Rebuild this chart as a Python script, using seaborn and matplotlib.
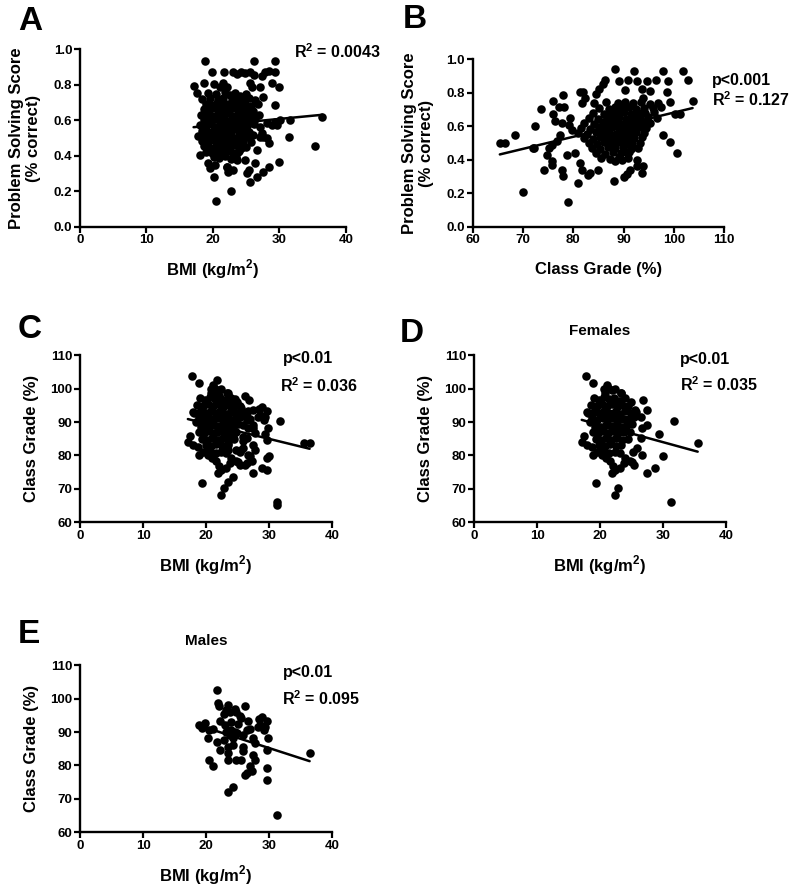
import matplotlib
matplotlib.use("Agg")
import matplotlib.pyplot as plt
import seaborn as sns
import numpy as np

# ---- Panel A: BMI vs problem solving score ----
bmi_a = [
    18.8, 26.2, 29.3,
    19.9, 21.7, 23.1, 23.6, 24.2, 24.9, 25.6, 26.2, 27.9, 28.4, 29.3, 27.4,
    17.1, 17.6, 18.6, 20.1, 21.6, 22.1, 25.6, 27.1, 28.9, 30.0, 25.9, 21.1,
    27.6, 29.4, 30.1, 29.6, 29.4, 31.6, 31.4, 28.1, 27.6, 36.5, 35.4,
    29.9, 28.4, 27.5, 26.6, 25.6, 26.4, 25.4, 24.8, 25.1, 22.8, 20.4,
    20.1, 19.6, 20.3, 22.1, 22.3, 23.0, 18.1, 26.6, 23.8, 24.3,
    28.1, 28.9, 27.1, 27.4, 18.3, 19.3, 22.2, 23.7, 28.4, 27.1,
    19.2, 20.5, 21.8, 22.6, 23.4, 24.1, 25.0,
    18.4, 19.6, 20.8, 21.5, 22.9, 23.7, 24.6, 25.4, 26.3,
    19.0, 19.9, 20.6, 21.2, 22.0, 22.7, 23.3, 24.0, 24.8, 25.7, 26.8,
    18.6, 19.4, 20.2, 21.0, 21.7, 22.4, 23.1, 23.9, 24.5, 25.2, 26.0,
    18.2, 19.1, 19.8, 20.7, 21.4, 22.2, 22.9, 23.6, 24.3, 25.0, 25.9, 26.9,
    18.7, 19.5, 20.3, 21.1, 21.9, 22.6, 23.4, 24.1, 24.9, 25.6, 26.4,
    18.0, 18.9, 19.7, 20.5, 21.3, 22.0, 22.8, 23.5, 24.2, 25.1, 26.2,
    18.4, 19.3, 20.1, 20.9, 21.6, 22.4, 23.2, 24.0, 24.7, 25.5,
    17.8, 18.8, 19.6, 20.4, 21.2, 21.9, 22.7, 23.5, 24.4, 25.3, 26.1,
    18.3, 19.2, 20.0, 20.8, 21.5, 22.3, 23.0, 23.8, 24.6, 25.8,
    18.6, 19.5, 20.4, 21.1, 21.9, 22.6, 23.4, 24.2, 25.0,
    19.0, 19.9, 20.7, 21.6, 22.3, 23.1, 24.0,
    20.2, 21.0, 21.8, 22.7, 23.5,
]
score_a = [
    0.931, 0.936, 0.931,
    0.869, 0.874, 0.869, 0.861, 0.869, 0.865, 0.874, 0.856, 0.869, 0.880, 0.874, 0.850,
    0.794, 0.752, 0.809, 0.803, 0.809, 0.790, 0.809, 0.790, 0.812, 0.790, 0.786, 0.790,
    0.733, 0.686, 0.602, 0.574, 0.592, 0.602, 0.504, 0.498, 0.504, 0.621, 0.457,
    0.367, 0.339, 0.310, 0.282, 0.254, 0.357, 0.320, 0.376, 0.301, 0.203, 0.147,
    0.282, 0.329, 0.348, 0.339, 0.310, 0.320, 0.404, 0.433, 0.423, 0.442,
    0.583, 0.574, 0.564, 0.530, 0.510, 0.360, 0.338, 0.376, 0.470, 0.507,
    0.752, 0.745, 0.758, 0.741, 0.755, 0.738, 0.748,
    0.718, 0.725, 0.712, 0.728, 0.716, 0.722, 0.709, 0.724, 0.714,
    0.692, 0.684, 0.697, 0.686, 0.694, 0.681, 0.699, 0.688, 0.693, 0.683, 0.690,
    0.662, 0.655, 0.667, 0.652, 0.664, 0.658, 0.669, 0.654, 0.661, 0.666, 0.651,
    0.628, 0.636, 0.624, 0.633, 0.627, 0.638, 0.622, 0.631, 0.626, 0.635, 0.621, 0.629,
    0.602, 0.596, 0.607, 0.593, 0.604, 0.598, 0.609, 0.591, 0.601, 0.594, 0.606,
    0.572, 0.566, 0.578, 0.563, 0.574, 0.568, 0.579, 0.561, 0.571, 0.565, 0.576,
    0.542, 0.536, 0.547, 0.533, 0.544, 0.538, 0.549, 0.531, 0.541, 0.535,
    0.512, 0.506, 0.517, 0.503, 0.514, 0.508, 0.519, 0.501, 0.511, 0.505, 0.516,
    0.482, 0.476, 0.487, 0.473, 0.484, 0.478, 0.489, 0.471, 0.481, 0.475,
    0.452, 0.446, 0.457, 0.443, 0.454, 0.448, 0.459, 0.441, 0.451,
    0.422, 0.416, 0.427, 0.413, 0.424, 0.418, 0.429,
    0.392, 0.386, 0.397, 0.383, 0.394,
]

# ---- Panel B: class grade vs problem solving score ----
grade_b = [
    88.2, 92.1, 97.9, 101.7, 102.8, 103.7,
    86.2, 85.8, 85.1, 84.5, 89.0, 90.8, 90.3, 92.6, 94.6, 96.4, 98.9, 93.6, 95.3, 98.6, 93.9, 99.2,
    82.0, 81.3, 82.3, 81.7, 84.2, 77.9, 75.9, 77.2, 78.2, 73.6, 76.0, 76.4, 77.7, 79.4, 79.2, 79.7, 72.4, 68.4,
    65.4, 66.4, 72.1,
    77.4, 76.7, 75.7, 75.2, 74.7, 75.7, 75.8, 74.1, 71.9, 78.7, 77.7, 78.0, 80.3, 81.3, 81.7, 83.0, 81.0, 70.1, 78.9,
    83.3, 85.0, 88.0, 90.0, 90.6, 91.3, 92.6, 93.9, 92.6, 93.6, 89.6, 88.3, 90.6, 99.2, 100.6, 97.9, 100.2, 101.2,
    86.5, 88.8, 90.2, 91.9, 93.5, 95.2, 96.9,
    85.2, 87.0, 88.3, 89.6, 91.0, 92.4, 94.0, 95.8, 97.5,
    84.0, 86.0, 87.4, 88.7, 90.0, 91.4, 92.8, 94.3, 96.0,
    83.1, 85.0, 86.6, 87.9, 89.1, 90.5, 91.8, 93.2, 94.8, 96.6,
    82.2, 84.2, 85.8, 87.1, 88.4, 89.7, 91.0, 92.4, 93.8, 95.3,
    81.5, 83.4, 85.1, 86.4, 87.7, 89.0, 90.3, 91.6, 93.0, 94.5,
    80.9, 82.8, 84.5, 85.8, 87.1, 88.4, 89.7, 91.0, 92.4, 94.0,
    82.1, 83.9, 85.3, 86.6, 87.9, 89.2, 90.6, 92.0, 93.6,
    83.2, 84.8, 86.1, 87.5, 88.8, 90.2, 91.7, 93.2,
    83.8, 85.4, 86.9, 88.3, 89.8, 91.4, 92.9,
    84.5, 86.2, 87.8, 89.4, 91.1,
    85.6, 87.3, 89.0, 90.8,
]
score_b = [
    0.940, 0.930, 0.930, 0.930, 0.877, 0.753,
    0.877, 0.851, 0.821, 0.790, 0.871, 0.877, 0.817, 0.871, 0.871, 0.877, 0.871, 0.821, 0.811, 0.803, 0.767, 0.747,
    0.803, 0.803, 0.767, 0.737, 0.741, 0.787, 0.751, 0.717, 0.717, 0.704, 0.672, 0.632, 0.618, 0.648, 0.608, 0.578, 0.604, 0.548,
    0.502, 0.502, 0.472,
    0.548, 0.509, 0.489, 0.469, 0.429, 0.393, 0.369, 0.339, 0.473, 0.429, 0.339, 0.300, 0.439, 0.379, 0.339, 0.310, 0.260, 0.210, 0.150,
    0.320, 0.340, 0.274, 0.294, 0.314, 0.339, 0.360, 0.360, 0.400, 0.320, 0.400, 0.390, 0.449, 0.505, 0.443, 0.548, 0.672, 0.672,
    0.742, 0.736, 0.745, 0.738, 0.744, 0.735, 0.741,
    0.712, 0.706, 0.715, 0.708, 0.714, 0.705, 0.711, 0.709, 0.713,
    0.682, 0.676, 0.685, 0.678, 0.684, 0.675, 0.681, 0.679, 0.683,
    0.652, 0.646, 0.655, 0.648, 0.654, 0.645, 0.651, 0.649, 0.653, 0.647,
    0.622, 0.616, 0.625, 0.618, 0.624, 0.615, 0.621, 0.619, 0.623, 0.617,
    0.592, 0.586, 0.595, 0.588, 0.594, 0.585, 0.591, 0.589, 0.593, 0.587,
    0.562, 0.556, 0.565, 0.558, 0.564, 0.555, 0.561, 0.559, 0.563, 0.557,
    0.532, 0.526, 0.535, 0.528, 0.534, 0.525, 0.531, 0.529, 0.533,
    0.502, 0.496, 0.505, 0.498, 0.504, 0.495, 0.501, 0.499,
    0.472, 0.466, 0.475, 0.468, 0.474, 0.465, 0.471,
    0.442, 0.436, 0.445, 0.438, 0.444,
    0.412, 0.406, 0.415, 0.408,
]

# ---- Panel D: females, BMI vs class grade ----
bmi_f = [
    17.8, 18.9, 21.1, 21.3, 21.9, 20.7, 22.3, 23.4, 24.9, 26.8,
    27.4, 26.5, 26.6, 31.7, 29.3, 35.5, 26.5, 25.8, 30.0, 26.7,
    28.8, 27.4, 25.0, 25.4, 23.8, 23.2, 22.4, 21.9, 22.0, 19.4,
    22.9, 22.3, 31.3, 17.4, 17.1, 17.9, 17.9, 18.1, 18.4, 19.2,
    18.7, 19.5, 18.9, 20.3, 21.0, 21.6, 20.5, 24.8, 24.0, 25.3,
    27.4, 25.6, 24.0, 23.3, 20.8,
    19.0, 19.8, 20.6, 21.4, 22.2, 23.0,
    18.6, 19.5, 20.3, 21.1, 21.9, 22.7, 23.5, 24.4,
    19.1, 19.9, 20.7, 21.5, 22.3, 23.1, 24.0, 24.9, 25.7,
    18.8, 19.6, 20.4, 21.2, 22.0, 22.8, 23.6, 24.5, 25.4,
    19.3, 20.1, 20.9, 21.7, 22.5, 23.3, 24.2, 25.1,
    18.9, 19.7, 20.5, 21.3, 22.1, 22.9, 23.8, 24.7,
    19.4, 20.2, 21.0, 21.8, 22.6, 23.5, 24.4,
    19.9, 20.8, 21.6, 22.5, 23.4,
    20.6, 21.5, 22.4, 23.2,
]
grade_f = [
    103.7, 101.6, 101.1, 100.1, 99.6, 99.8, 99.8, 98.6, 96.1, 96.6,
    93.6, 91.4, 88.1, 90.3, 86.3, 83.6, 85.1, 82.1, 79.8, 80.1,
    76.1, 74.7, 78.1, 77.2, 77.7, 76.2, 75.8, 74.7, 76.7, 71.8,
    70.2, 68.2, 66.0, 85.7, 84.1, 83.2, 93.1, 92.8, 90.1, 88.6,
    82.6, 81.1, 80.2, 80.2, 79.2, 78.2, 82.6, 78.2, 79.2, 80.9,
    89.1, 93.6, 97.1, 98.6, 98.6,
    97.2, 96.6, 97.5, 96.9, 97.3, 96.4,
    95.1, 94.7, 95.4, 94.9, 95.3, 94.6, 95.2, 94.8,
    93.0, 92.6, 93.3, 92.8, 93.1, 92.5, 93.2, 92.7, 92.9,
    91.1, 90.7, 91.3, 90.8, 91.2, 90.6, 91.0, 90.9, 91.4,
    89.0, 88.6, 89.2, 88.7, 89.1, 88.5, 88.9, 89.3,
    87.1, 86.7, 87.3, 86.8, 87.2, 86.6, 87.0, 86.9,
    85.0, 84.6, 85.2, 84.7, 85.1, 84.5, 84.9,
    83.1, 82.7, 83.3, 82.8, 83.0,
    81.2, 80.8, 81.0, 80.6,
]

# ---- Panel E: males, BMI vs class grade ----
bmi_m = [
    21.7, 21.8, 22.0, 23.5, 24.6, 24.8, 26.1, 22.8, 23.2, 23.8,
    25.3, 25.6, 22.2, 26.7, 28.3, 28.9, 29.6, 28.5, 29.3, 29.1,
    28.2, 18.9, 19.8, 19.4, 20.5, 21.1, 20.3, 21.7, 22.8, 23.2,
    24.0, 24.6, 24.9, 23.8, 24.3, 25.9, 26.4, 27.5, 27.7, 29.8,
    23.5, 24.3, 25.8, 25.8, 23.5, 23.5, 22.2, 24.8, 25.6, 27.5,
    27.7, 29.7, 20.5, 21.1, 26.9, 27.2, 26.4, 26.1, 29.6, 29.7,
    23.5, 24.3, 31.2, 36.4, 24.0, 25.0, 23.0, 26.9,
]
grade_m = [
    102.6, 98.6, 97.8, 98.1, 96.9, 96.1, 97.8, 95.4, 96.6, 96.1,
    94.8, 94.1, 93.3, 93.3, 93.8, 94.4, 93.3, 92.1, 91.6, 90.6,
    91.6, 92.1, 92.8, 91.1, 90.6, 90.8, 88.3, 87.1, 87.6, 90.1,
    90.6, 90.1, 89.6, 89.1, 88.1, 89.1, 90.6, 88.1, 86.6, 88.3,
    85.6, 86.1, 85.6, 84.2, 83.6, 81.7, 84.6, 81.7, 81.7, 83.2,
    81.7, 84.6, 81.5, 79.7, 79.7, 78.2, 77.7, 77.2, 79.2, 75.7,
    72.2, 73.5, 65.2, 83.6, 93.0, 92.5, 92.0, 91.0,
]

# ---- Panel C: everyone (females + males) ----
bmi_all = bmi_f + bmi_m
grade_all = grade_f + grade_m

BMI_LABEL = r"BMI (kg/m$^{\mathbf{2}}$)"
PS_LABEL = "Problem Solving Score\n(% correct)"
GRADE_LABEL = "Class Grade (%)"
SQ = r"R$^{\mathbf{2}}$"

sns.set_style("ticks")
plt.rcParams["font.family"] = ["Liberation Sans", "DejaVu Sans"]
plt.rcParams["font.weight"] = "bold"
plt.rcParams["axes.labelweight"] = "bold"
plt.rcParams["mathtext.fontset"] = "custom"
plt.rcParams["mathtext.bf"] = "Liberation Sans:bold"
plt.rcParams["mathtext.rm"] = "Liberation Sans:bold"
for key in ("text.color", "axes.labelcolor", "xtick.color", "ytick.color", "axes.edgecolor"):
    plt.rcParams[key] = "black"

fig = plt.figure(figsize=(7.92, 8.89), dpi=100)


def panel(rect, x, y, xlim, xticks, ylim, yticks, xlabel, ylabel, notes,
          title=None, ylabelpad=8, xlabelpad=8):
    ax = fig.add_axes(rect)
    sns.regplot(x=np.array(x), y=np.array(y), ax=ax, ci=None, color="black",
                scatter_kws={"s": 38, "alpha": 1, "linewidths": 0, "clip_on": False},
                line_kws={"lw": 1.8})
    ax.set_xlim(*xlim)
    ax.set_ylim(*ylim)
    ax.set_xticks(xticks)
    ax.set_yticks(yticks)
    ax.set_xlabel(xlabel, fontsize=12, labelpad=xlabelpad)
    ax.set_ylabel(ylabel, fontsize=12, labelpad=ylabelpad)
    sns.despine(ax=ax)
    for side in ("left", "bottom"):
        ax.spines[side].set_linewidth(1.7)
    ax.tick_params(direction="out", length=4, width=1.6, labelsize=9.5, pad=1.5)
    for nx, ny, txt, ha in notes:
        ax.text(nx, ny, txt, transform=ax.transAxes, ha=ha, va="center",
                fontsize=11.5, fontweight="bold")
    if title:
        ax.text(0.5, 1.145, title, transform=ax.transAxes, ha="center",
                va="center", fontsize=11, fontweight="bold")
    return ax


bmi_ticks = [0, 10, 20, 30, 40]
ps_ticks = [0.0, 0.2, 0.4, 0.6, 0.8, 1.0]
grade_ticks = [60, 70, 80, 90, 100, 110]

panel([0.101, 0.745, 0.3355, 0.1996], bmi_a, score_a, (0, 40), bmi_ticks,
      (0, 1.0), ps_ticks, BMI_LABEL, PS_LABEL,
      [(0.971, 0.985, SQ + " = 0.0043", "center")], ylabelpad=9)

panel([0.5968, 0.745, 0.3177, 0.1883], grade_b, score_b, (60, 110),
      [60, 70, 80, 90, 100, 110], (0, 1.0), ps_ticks, "Class Grade (%)", PS_LABEL,
      [(0.95, 0.876, "p<0.001", "left"), (0.95, 0.757, SQ + " = 0.127", "left")],
      ylabelpad=9, xlabelpad=11)

panel([0.101, 0.4125, 0.3186, 0.1879], bmi_all, grade_all, (0, 40), bmi_ticks,
      (60, 110), grade_ticks, BMI_LABEL, GRADE_LABEL,
      [(0.805, 0.981, "p<0.01", "left"), (0.793, 0.819, SQ + " = 0.036", "left")])

panel([0.5985, 0.4125, 0.3182, 0.1879], bmi_f, grade_f, (0, 40), bmi_ticks,
      (60, 110), grade_ticks, BMI_LABEL, GRADE_LABEL,
      [(0.817, 0.972, "p<0.01", "left"), (0.817, 0.822, SQ + " = 0.035", "left")],
      title="Females")

panel([0.101, 0.0638, 0.3186, 0.1879], bmi_m, grade_m, (0, 40), bmi_ticks,
      (60, 110), grade_ticks, BMI_LABEL, GRADE_LABEL,
      [(0.805, 0.957, "p<0.01", "left"), (0.80, 0.801, SQ + " = 0.095", "left")],
      title="Males")

# panel letters (pixel positions converted to figure fraction)
for letter, px, py in [("A", 18, 30), ("B", 403, 28), ("C", 18, 338),
                       ("D", 400, 342), ("E", 18, 643)]:
    fig.text(px / 792, 1 - py / 889, letter, fontsize=24, fontweight="bold",
             ha="left", va="baseline")

fig.savefig("out.png", dpi=100)
